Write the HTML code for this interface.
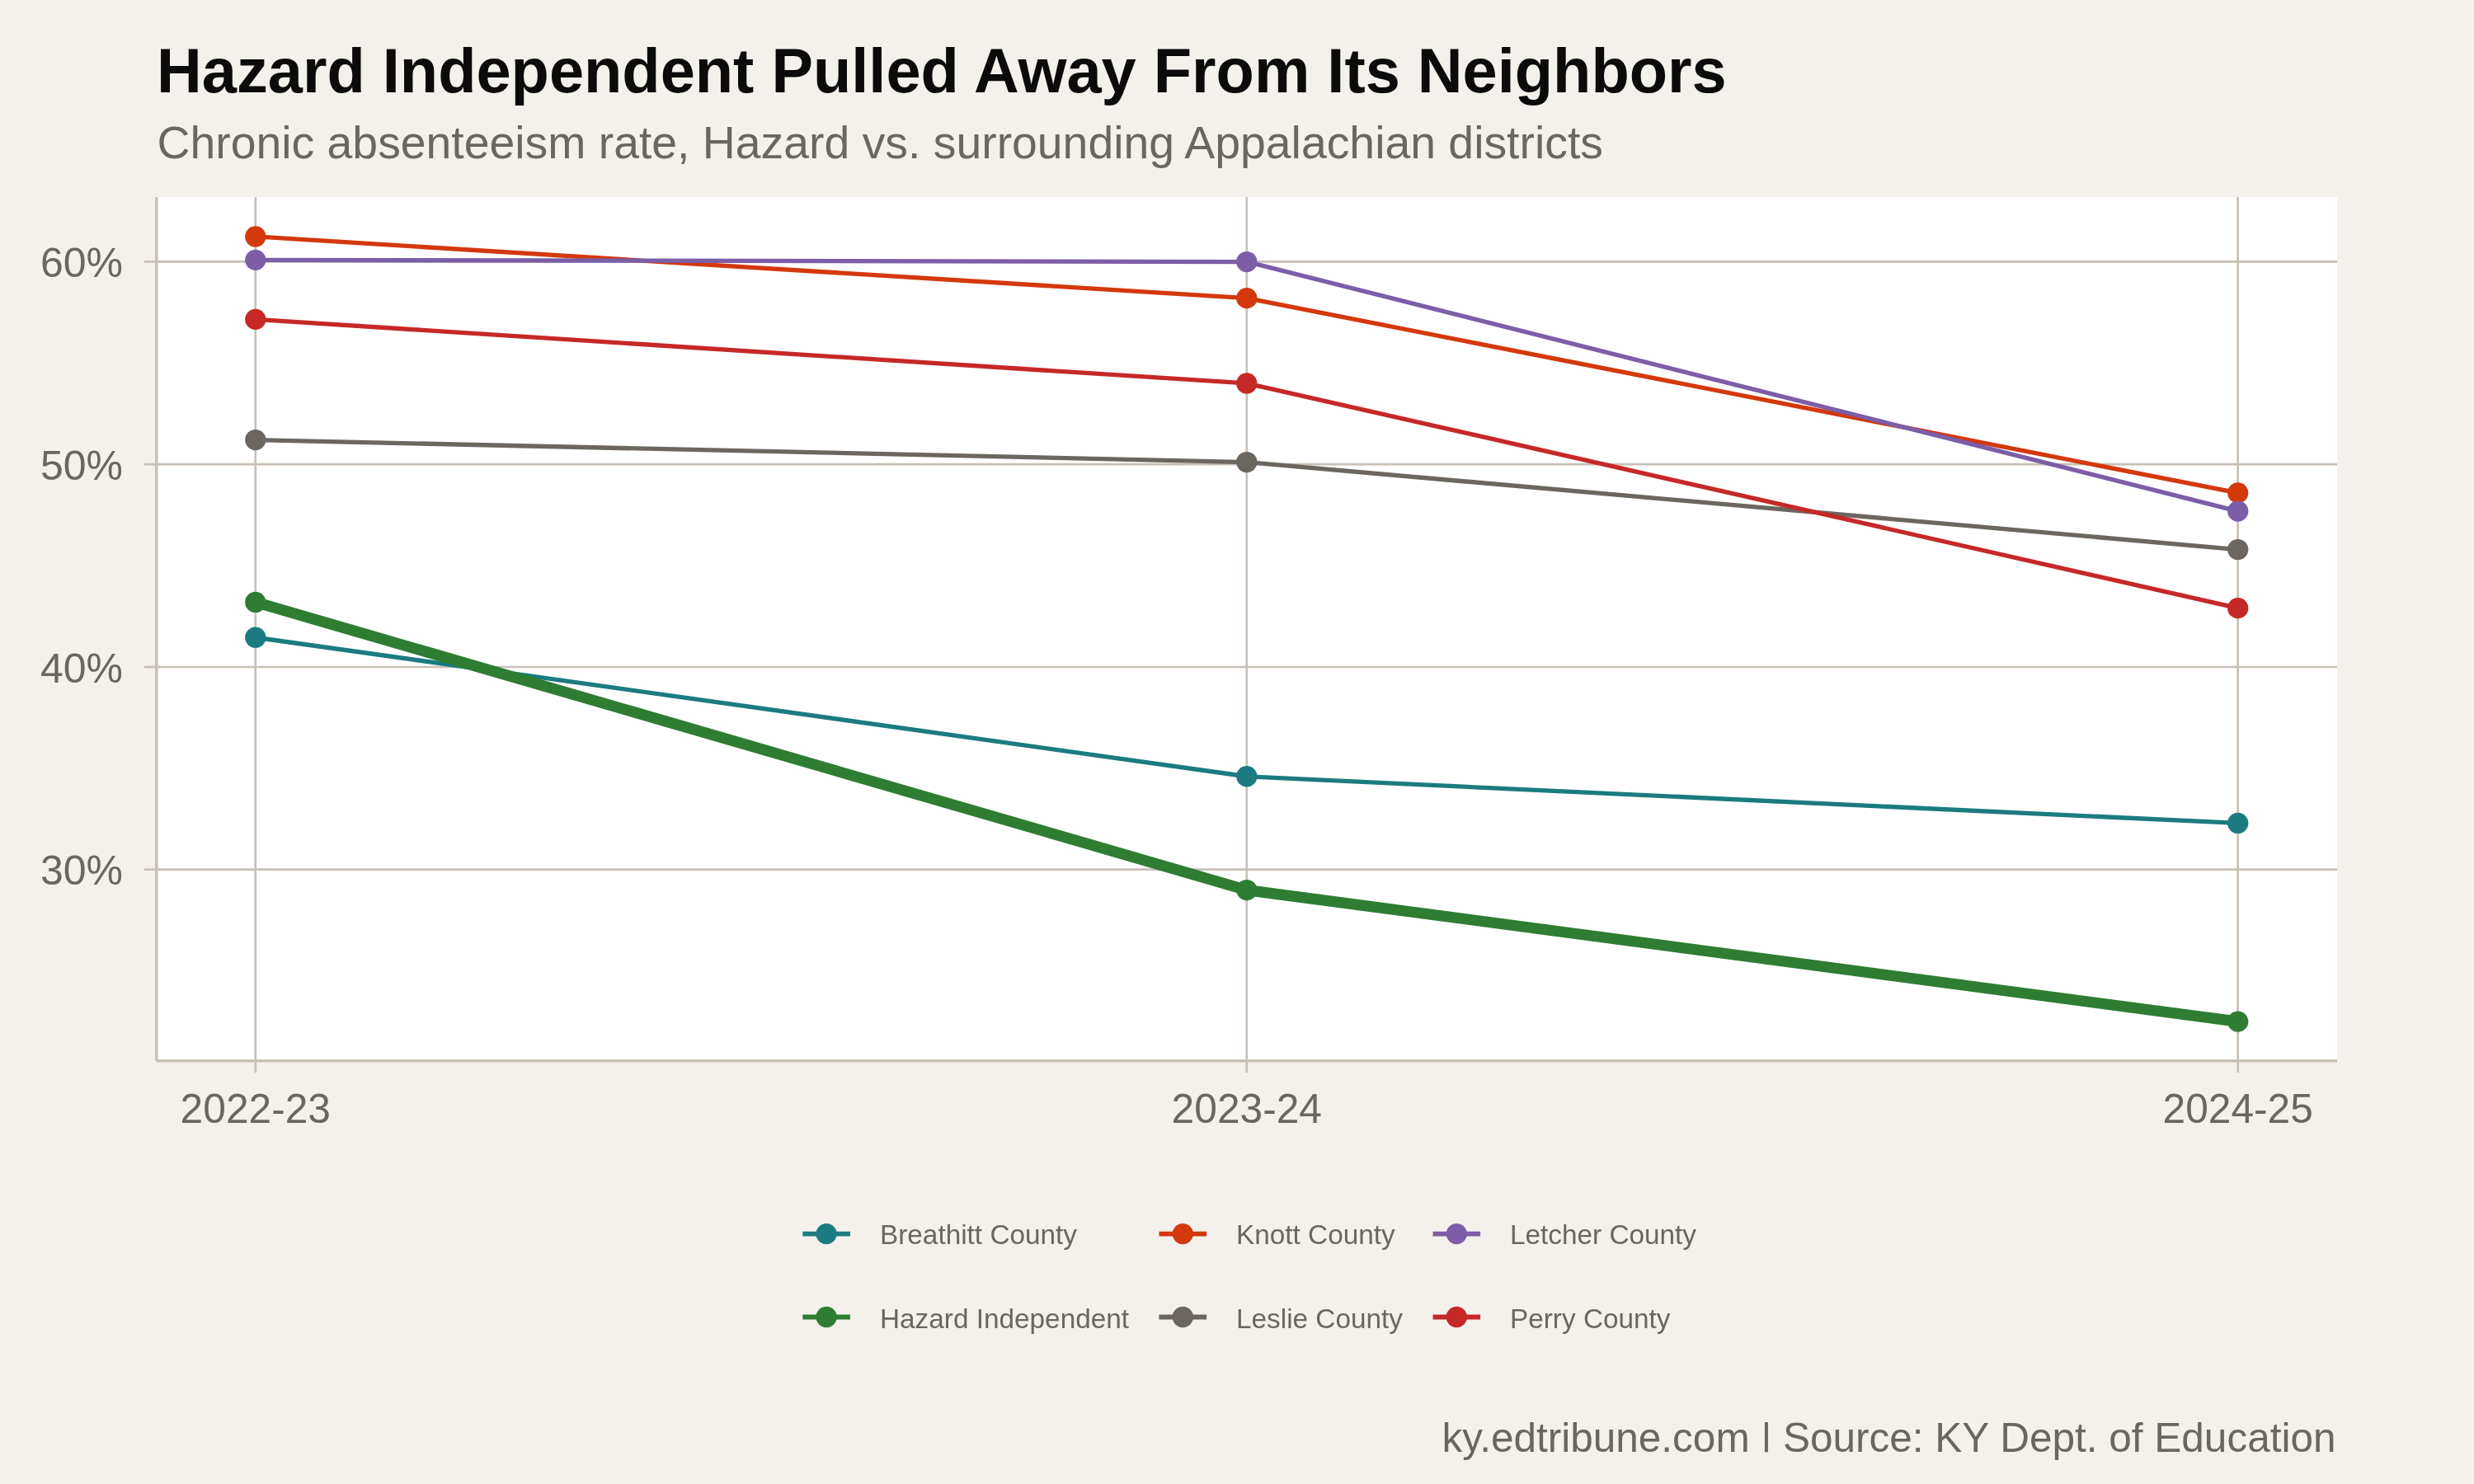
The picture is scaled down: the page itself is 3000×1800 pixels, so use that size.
<!DOCTYPE html>
<html>
<head>
<meta charset="utf-8">
<style>
html,body{margin:0;padding:0;width:3000px;height:1800px;overflow:hidden;background:#F4F1EC;}
svg{display:block;will-change:transform;}
text{font-family:"Liberation Sans", sans-serif;}
</style>
</head>
<body>
<svg width="3000" height="1800" viewBox="0 0 3000 1800">
<rect x="0" y="0" width="3000" height="1800" fill="#F4F1EC"/>
<!-- title -->
<text id="title" x="190" y="112.2" font-size="75.8" font-weight="bold" fill="#0B0B0B">Hazard Independent Pulled Away From Its Neighbors</text>
<text id="subtitle" x="190.5" y="192" font-size="55.35" fill="#6B665F">Chronic absenteeism rate, Hazard vs. surrounding Appalachian districts</text>
<!-- panel -->
<rect x="189.6" y="239" width="2644.4" height="1047.8" fill="#FFFFFF"/>
<g stroke="#C8C0B5" stroke-width="2.67" fill="none">
<line x1="189.6" y1="317.4" x2="2834" y2="317.4"/>
<line x1="189.6" y1="563.2" x2="2834" y2="563.2"/>
<line x1="189.6" y1="809.0" x2="2834" y2="809.0"/>
<line x1="189.6" y1="1054.7" x2="2834" y2="1054.7"/>
<line x1="309.8" y1="239" x2="309.8" y2="1286.8"/>
<line x1="1511.8" y1="239" x2="1511.8" y2="1286.8"/>
<line x1="2713.7" y1="239" x2="2713.7" y2="1286.8"/>
</g>
<!-- axes -->
<g stroke="#C8C0B5" stroke-width="3.56" fill="none">
<line x1="189.8" y1="239" x2="189.8" y2="1286.7"/>
<line x1="189.8" y1="1286.7" x2="2834" y2="1286.7"/>
</g>
<g stroke="#C8C0B5" stroke-width="2.67" fill="none">
<line x1="175" y1="317.4" x2="189.6" y2="317.4"/>
<line x1="175" y1="563.2" x2="189.6" y2="563.2"/>
<line x1="175" y1="809.0" x2="189.6" y2="809.0"/>
<line x1="175" y1="1054.7" x2="189.6" y2="1054.7"/>
<line x1="309.8" y1="1286.8" x2="309.8" y2="1301"/>
<line x1="1511.8" y1="1286.8" x2="1511.8" y2="1301"/>
<line x1="2713.7" y1="1286.8" x2="2713.7" y2="1301"/>
</g>
<!-- y labels -->
<g font-size="50" fill="#6B665F" text-anchor="end">
<text x="149" y="335.7">60%</text>
<text x="149" y="581.7">50%</text>
<text x="149" y="827.7">40%</text>
<text x="149" y="1072.7">30%</text>
</g>
<!-- x labels -->
<g font-size="49.7" fill="#6B665F" text-anchor="middle">
<text x="309.8" y="1362">2022-23</text>
<text x="1511.8" y="1362">2023-24</text>
<text x="2713.7" y="1362">2024-25</text>
</g>
<!-- lines -->
<g fill="none" stroke-linejoin="round" stroke-linecap="butt">
<polyline points="309.8,773.25 1511.8,941.75 2713.7,998.45" stroke="#1B7B80" stroke-width="5.33"/>
<polyline points="309.8,286.95 1511.8,361.65 2713.7,597.85" stroke="#D4380D" stroke-width="5.33"/>
<polyline points="309.8,533.55 1511.8,560.55 2713.7,666.55" stroke="#6B665F" stroke-width="5.33"/>
<polyline points="309.8,315.35 1511.8,317.55 2713.7,620.05" stroke="#7B5EA7" stroke-width="5.33"/>
<polyline points="309.8,387.35 1511.8,464.95 2713.7,737.65" stroke="#C62828" stroke-width="5.33"/>
<polyline points="309.8,730.45 1511.8,1079.55 2713.7,1239.15" stroke="#2E7D32" stroke-width="13.3"/>
</g>
<g>
<circle cx="309.8" cy="773.25" r="12.65" fill="#1B7B80"/><circle cx="1511.8" cy="941.75" r="12.65" fill="#1B7B80"/><circle cx="2713.7" cy="998.45" r="12.65" fill="#1B7B80"/>
<circle cx="309.8" cy="286.95" r="12.65" fill="#D4380D"/><circle cx="1511.8" cy="361.65" r="12.65" fill="#D4380D"/><circle cx="2713.7" cy="597.85" r="12.65" fill="#D4380D"/>
<circle cx="309.8" cy="533.55" r="12.65" fill="#6B665F"/><circle cx="1511.8" cy="560.55" r="12.65" fill="#6B665F"/><circle cx="2713.7" cy="666.55" r="12.65" fill="#6B665F"/>
<circle cx="309.8" cy="315.35" r="12.65" fill="#7B5EA7"/><circle cx="1511.8" cy="317.55" r="12.65" fill="#7B5EA7"/><circle cx="2713.7" cy="620.05" r="12.65" fill="#7B5EA7"/>
<circle cx="309.8" cy="387.35" r="12.65" fill="#C62828"/><circle cx="1511.8" cy="464.95" r="12.65" fill="#C62828"/><circle cx="2713.7" cy="737.65" r="12.65" fill="#C62828"/>
<circle cx="309.8" cy="730.45" r="12.65" fill="#2E7D32"/><circle cx="1511.8" cy="1079.55" r="12.65" fill="#2E7D32"/><circle cx="2713.7" cy="1239.15" r="12.65" fill="#2E7D32"/>
</g>
<!-- legend -->
<g stroke-width="5.8">
<line x1="973.3" y1="1496.6" x2="1030.9" y2="1496.6" stroke="#1B7B80"/><circle cx="1002.1" cy="1496.6" r="12.65" fill="#1B7B80"/>
<line x1="973.3" y1="1597.5" x2="1030.9" y2="1597.5" stroke="#2E7D32"/><circle cx="1002.1" cy="1597.5" r="12.65" fill="#2E7D32"/>
<line x1="1405.5" y1="1496.6" x2="1463.1" y2="1496.6" stroke="#D4380D"/><circle cx="1434.3" cy="1496.6" r="12.65" fill="#D4380D"/>
<line x1="1405.5" y1="1597.5" x2="1463.1" y2="1597.5" stroke="#6B665F"/><circle cx="1434.3" cy="1597.5" r="12.65" fill="#6B665F"/>
<line x1="1737.5" y1="1496.6" x2="1795.1" y2="1496.6" stroke="#7B5EA7"/><circle cx="1766.3" cy="1496.6" r="12.65" fill="#7B5EA7"/>
<line x1="1737.5" y1="1597.5" x2="1795.1" y2="1597.5" stroke="#C62828"/><circle cx="1766.3" cy="1597.5" r="12.65" fill="#C62828"/>
</g>
<g font-size="33.33" fill="#6B665F">
<text x="1067" y="1509.1">Breathitt County</text>
<text x="1067" y="1610.6">Hazard Independent</text>
<text x="1499" y="1509.1">Knott County</text>
<text x="1499" y="1610.6">Leslie County</text>
<text x="1831" y="1509.1">Letcher County</text>
<text x="1831" y="1610.6">Perry County</text>
</g>
<!-- caption -->
<text x="2832.5" y="1761.1" font-size="49.5" fill="#6B665F" text-anchor="end">ky.edtribune.com | Source: KY Dept. of Education</text>
<rect x="2137" y="1761.3" width="10" height="12" fill="#F4F1EC"/>
</svg>
</body>
</html>
